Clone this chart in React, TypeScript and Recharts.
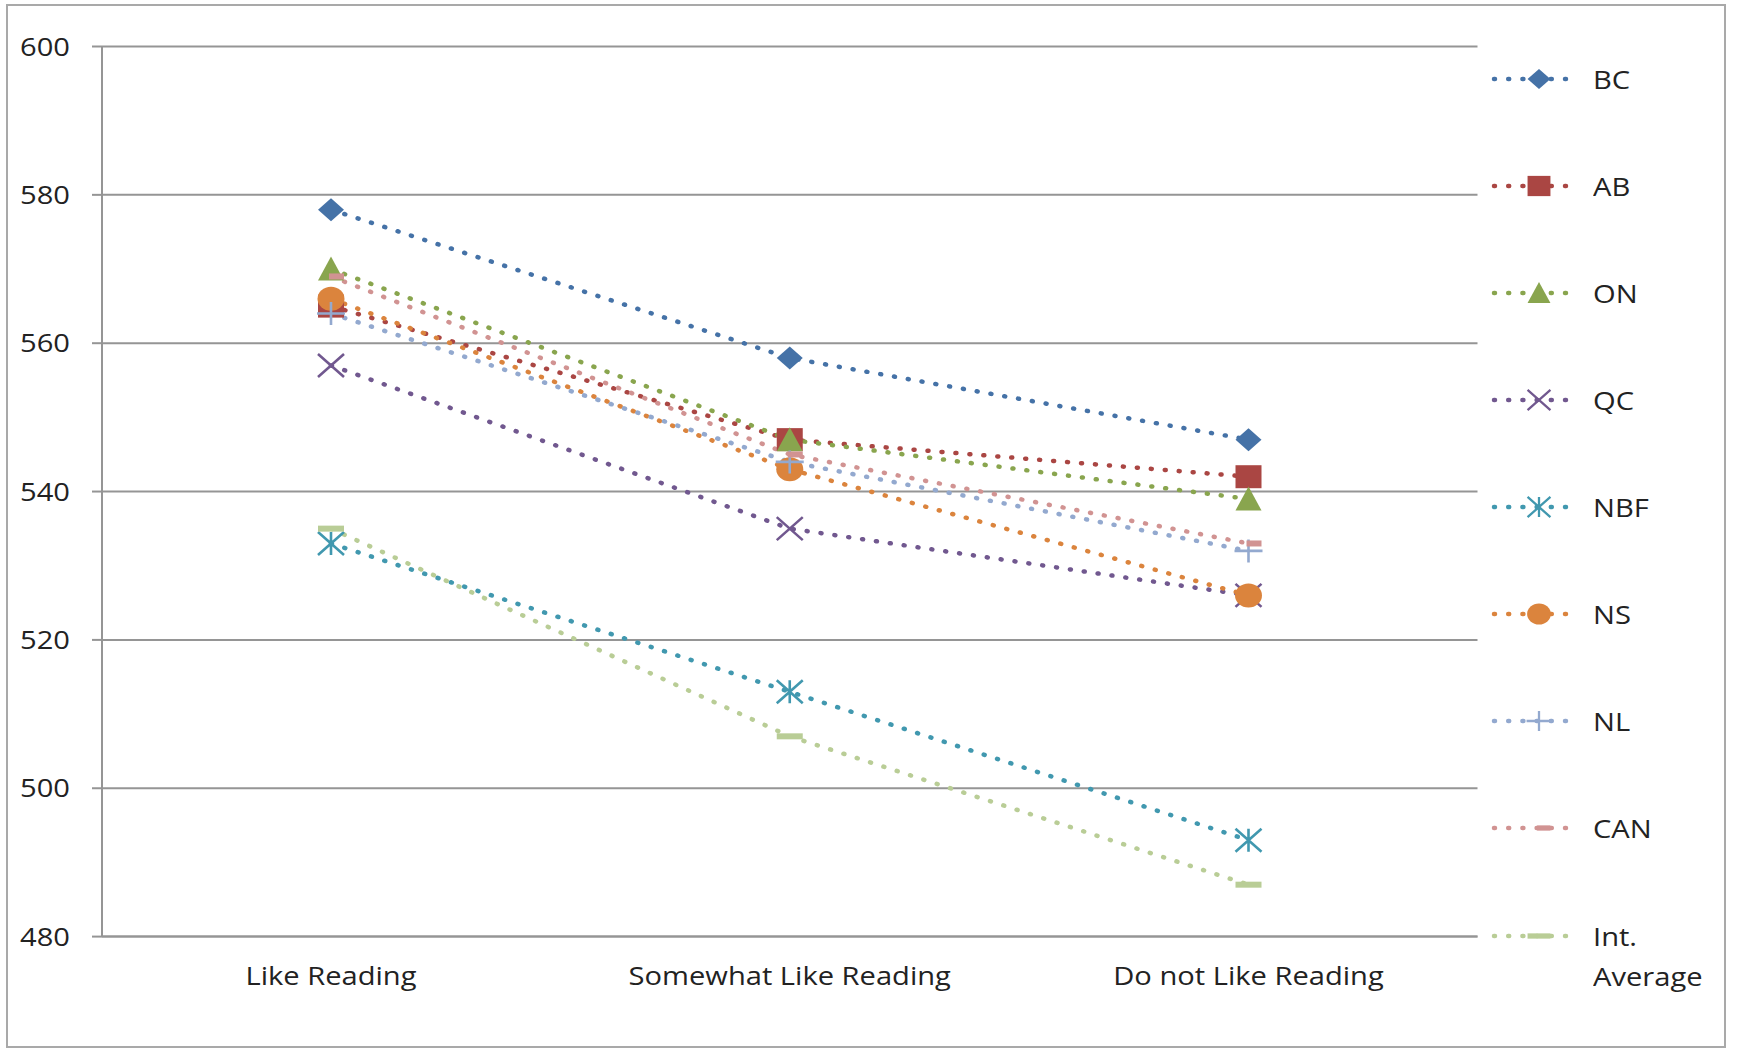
import React from "react";
import { LineChart, Line, XAxis, YAxis, CartesianGrid } from "recharts";

const categories = ["Like Reading", "Somewhat Like Reading", "Do not Like Reading"];

const bc = [578, 558, 547];
const ab = [565, 547, 542];
const on = [570, 547, 539];
const qc = [557, 535, 526];
const nbf = [533, 513, 493];
const ns = [566, 543, 526];
const nl = [564, 544, 532];
const can = [569, 545, 533];
const intAvg = [535, 507, 487];

const yTicks = [480, 500, 520, 540, 560, 580, 600];
const edgeTicks = [0, 1, 2, 3];

type Shape = "diamond" | "square" | "triangle" | "x" | "star" | "circle" | "plus" | "dashShort" | "dashLong";

const series: { key: string; label: string[]; values: number[]; color: string; shape: Shape }[] = [
  { key: "BC", label: ["BC"], values: bc, color: "#4572A7", shape: "diamond" },
  { key: "AB", label: ["AB"], values: ab, color: "#AA4643", shape: "square" },
  { key: "ON", label: ["ON"], values: on, color: "#89A54E", shape: "triangle" },
  { key: "QC", label: ["QC"], values: qc, color: "#71588F", shape: "x" },
  { key: "NBF", label: ["NBF"], values: nbf, color: "#4198AF", shape: "star" },
  { key: "NS", label: ["NS"], values: ns, color: "#DB843D", shape: "circle" },
  { key: "NL", label: ["NL"], values: nl, color: "#93A9CF", shape: "plus" },
  { key: "CAN", label: ["CAN"], values: can, color: "#D19392", shape: "dashShort" },
  { key: "IntAvg", label: ["Int.", "Average"], values: intAvg, color: "#B9CD96", shape: "dashLong" },
];

const data = categories.map((cat, i) => {
  const row: Record<string, string | number> = { cat };
  series.forEach((s) => (row[s.key] = s.values[i]));
  return row;
});

const FONT = "'Open Sans', sans-serif";
const TEXT = "#222";
const GRID = "#959595";
const STRETCH = 1.12;

function Marker({ shape, cx, cy, color, s = 1 }: { shape: Shape; cx: number; cy: number; color: string; s?: number }) {
  const w = 13 * s;
  const h = 11.5 * s;
  const sw = 2.6 * Math.max(s, 0.8);
  switch (shape) {
    case "diamond":
      return <polygon points={`${cx - w},${cy} ${cx},${cy - h} ${cx + w},${cy} ${cx},${cy + h}`} fill={color} />;
    case "square":
      return <rect x={cx - w} y={cy - h} width={2 * w} height={2 * h} fill={color} />;
    case "triangle":
      return <polygon points={`${cx},${cy - h - 1} ${cx + w},${cy + h} ${cx - w},${cy + h}`} fill={color} />;
    case "x":
      return <path d={`M${cx - w} ${cy - h}L${cx + w} ${cy + h}M${cx + w} ${cy - h}L${cx - w} ${cy + h}`} stroke={color} strokeWidth={sw} fill="none" />;
    case "star":
      return (
        <path
          d={`M${cx - w} ${cy - h}L${cx + w} ${cy + h}M${cx + w} ${cy - h}L${cx - w} ${cy + h}M${cx} ${cy - h}L${cx} ${cy + h}`}
          stroke={color}
          strokeWidth={sw}
          fill="none"
        />
      );
    case "circle":
      return <ellipse cx={cx} cy={cy} rx={13.5 * s} ry={12 * s} fill={color} />;
    case "plus":
      return <path d={`M${cx - w - 1} ${cy}L${cx + w + 1} ${cy}M${cx} ${cy - h}L${cx} ${cy + h}`} stroke={color} strokeWidth={sw} fill="none" />;
    case "dashShort":
      return <rect x={cx - 2 * s} y={cy - 3 * s} width={15 * s} height={6 * s} fill={color} />;
    case "dashLong":
      return <rect x={cx - w} y={cy - 3 * s} width={2 * w} height={6 * s} fill={color} />;
  }
  return null;
}

function YTick(props: any) {
  const { x, y, payload } = props;
  return (
    <g transform={`translate(${x},${y + 9}) scale(${STRETCH},1)`}>
      <text x={0} y={0} textAnchor="end" fontFamily={FONT} fontSize={26} fill={TEXT}>
        {payload.value}
      </text>
    </g>
  );
}

function XTick(props: any) {
  const { x, y, payload } = props;
  return (
    <g transform={`translate(${x},${y + 48}) scale(${STRETCH},1)`}>
      <text x={0} y={0} textAnchor="middle" fontFamily={FONT} fontSize={26} fill={TEXT}>
        {payload.value}
      </text>
    </g>
  );
}

function LegendBox() {
  return (
    <div style={{ position: "absolute", left: 0, top: 0 }}>
      {series.map((s, i) => {
        const cy = 72.7 + i * 107.1;
        return (
          <div key={s.key}>
            <svg style={{ position: "absolute", left: 1483, top: cy - 15 }} width={92} height={30}>
              <line x1={3} y1={15} x2={88} y2={15} stroke={s.color} strokeWidth={4.5} strokeDasharray="1 13.2" strokeLinecap="round" />
              <Marker shape={s.shape} cx={48} cy={15} color={s.color} s={0.88} />
            </svg>
            <div
              style={{
                position: "absolute",
                left: 1585,
                top: cy - 20,
                fontFamily: FONT,
                fontSize: 26,
                lineHeight: "40px",
                color: TEXT,
                whiteSpace: "nowrap",
                transform: `scale(${STRETCH},1)`,
                transformOrigin: "left center",
              }}
            >
              {s.label.map((t) => (
                <div key={t}>{t}</div>
              ))}
            </div>
          </div>
        );
      })}
    </div>
  );
}

export default function App() {
  return (
    <div
      style={{
        position: "absolute",
        left: 6,
        top: 4,
        width: 1716,
        height: 1040,
        border: "2px solid #a9a9a9",
        background: "#fff",
      }}
    >
      <LineChart width={1716} height={1040} data={data} margin={{ top: 40.5, right: 246.5, bottom: 0, left: 0 }}>
        <CartesianGrid vertical={false} stroke={GRID} strokeWidth={2} />
        <XAxis
          xAxisId="edges"
          type="number"
          domain={[0, 3]}
          ticks={edgeTicks}
          tick={false}
          axisLine={false}
          tickLine={{ stroke: GRID, strokeWidth: 2 }}
          tickSize={9}
          height={0}
        />
        <XAxis
          dataKey="cat"
          padding={{ left: 229, right: 229 }}
          tick={<XTick />}
          tickLine={false}
          tickSize={0}
          tickMargin={0}
          axisLine={{ stroke: GRID, strokeWidth: 2 }}
          height={109.4}
          interval={0}
        />
        <YAxis
          domain={[480, 600]}
          ticks={yTicks}
          width={94}
          tickSize={10}
          tickMargin={22}
          tick={<YTick />}
          tickLine={{ stroke: GRID, strokeWidth: 2 }}
          axisLine={{ stroke: GRID, strokeWidth: 2 }}
        />
        {series.map((s) => (
          <Line
            key={s.key}
            type="linear"
            dataKey={s.key}
            stroke={s.color}
            strokeWidth={4.5}
            strokeDasharray="1 13"
            strokeLinecap="round"
            isAnimationActive={false}
            dot={(p: any) => <Marker key={`${s.key}-${p.index}`} shape={s.shape} cx={p.cx} cy={p.cy} color={s.color} />}
            activeDot={false}
          />
        ))}
      </LineChart>
      <LegendBox />
    </div>
  );
}
